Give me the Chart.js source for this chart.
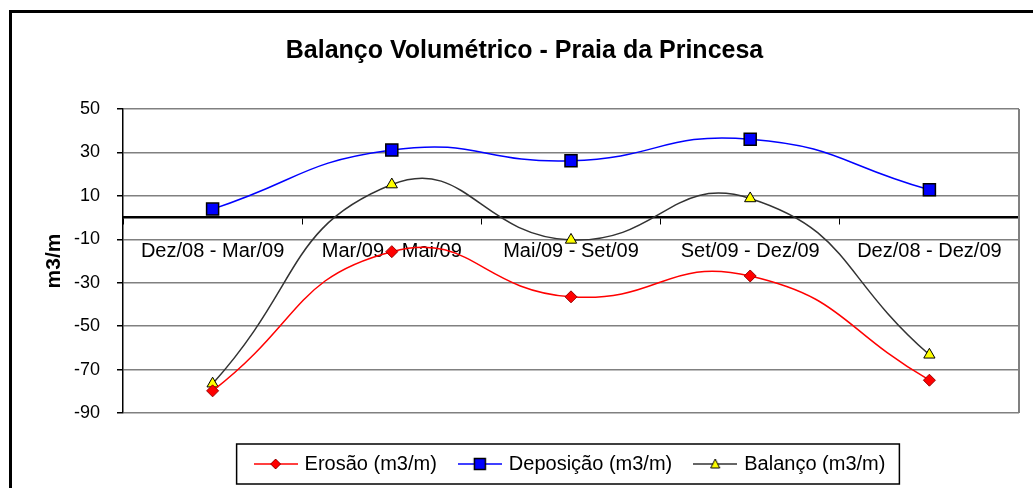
<!DOCTYPE html>
<html>
<head>
<meta charset="utf-8">
<script src="https://cdn.jsdelivr.net/npm/chart.js@4.4.1/dist/chart.umd.min.js"></script>
<style>
  html, body { margin: 0; padding: 0; background: #fff; width: 1033px; height: 488px; overflow: hidden; }
  #frame { position: absolute; left: 9px; top: 10px; width: 1100px; height: 600px; border-left: 3px solid #000; border-top: 3px solid #000; }
  #wrap { position: absolute; left: 0; top: 0; width: 1033px; height: 488px; }
</style>
</head>
<body>
<div id="frame"></div>
<div id="wrap"><canvas id="chart" width="1033" height="488"></canvas></div>
<script>
// periodos (categorias do eixo x)
const periodos = ['Dez/08 - Mar/09', 'Mar/09 - Mai/09', 'Mai/09 - Set/09', 'Set/09 - Dez/09', 'Dez/08 - Dez/09'];

// valores (m3/m)
const erosao    = [-79.8, -15.7, -36.5, -26.9, -74.9];
const deposicao = [3.9, 31.1, 26.2, 36.1, 12.8];
const balanco   = [-76.5, 15.2, -10.3, 8.8, -63.2];

// eixo y
const yMin = -90;
const yMax = 50;
const yStep = 20;

const tituloGrafico = 'Balanço Volumétrico - Praia da Princesa';
const tituloEixoY = 'm3/m';
const nomesSeries = ['Erosão (m3/m)', 'Deposição (m3/m)', 'Balanço (m3/m)'];

// icones da legenda: linha com marcador no meio
function legendIcon(lineColor, drawMarker) {
  const c = document.createElement('canvas');
  c.width = 44;
  c.height = 16;
  const g = c.getContext('2d');
  g.strokeStyle = lineColor;
  g.lineWidth = 1.5;
  g.beginPath();
  g.moveTo(0, 8);
  g.lineTo(44, 8);
  g.stroke();
  drawMarker(g, 22, 8);
  return c;
}

const icons = [
  legendIcon('#FF0000', (g, x, y) => {
    g.beginPath();
    g.moveTo(x, y - 5); g.lineTo(x + 5, y); g.lineTo(x, y + 5); g.lineTo(x - 5, y);
    g.closePath();
    g.fillStyle = '#FF0000'; g.fill();
    g.strokeStyle = '#990000'; g.lineWidth = 1; g.stroke();
  }),
  legendIcon('#0000FF', (g, x, y) => {
    g.fillStyle = '#0000FF';
    g.fillRect(x - 5.5, y - 5.5, 11, 11);
    g.strokeStyle = '#000'; g.lineWidth = 1.5;
    g.strokeRect(x - 5.5, y - 5.5, 11, 11);
  }),
  legendIcon('#333333', (g, x, y) => {
    g.beginPath();
    g.moveTo(x, y - 5); g.lineTo(x + 4.5, y + 4); g.lineTo(x - 4.5, y + 4);
    g.closePath();
    g.fillStyle = '#FFFF00'; g.fill();
    g.strokeStyle = '#000'; g.lineWidth = 1; g.stroke();
  })
];

// borda direita da area do grafico e caixa da legenda
const framePlugin = {
  id: 'framePlugin',
  beforeDatasetsDraw(chart) {
    const { ctx, chartArea: a } = chart;
    ctx.save();
    ctx.strokeStyle = '#808080';
    ctx.lineWidth = 2;
    ctx.beginPath();
    ctx.moveTo(a.right, a.top);
    ctx.lineTo(a.right, a.bottom);
    ctx.stroke();
    ctx.restore();
  },
  afterDraw(chart) {
    const boxes = chart.legend && chart.legend.legendHitBoxes;
    if (!boxes || !boxes.length) return;
    const left = Math.min(...boxes.map(b => b.left)) - 20;
    const right = Math.max(...boxes.map(b => b.left + b.width)) + 14;
    const cy = boxes[0].top + boxes[0].height / 2;
    const ctx = chart.ctx;
    ctx.save();
    ctx.strokeStyle = '#000';
    ctx.lineWidth = 1.5;
    ctx.strokeRect(left, cy - 20, right - left, 40);
    ctx.restore();
  }
};

const ctx = document.getElementById('chart');
const chart = new Chart(ctx, {
  type: 'line',
  data: {
    labels: periodos,
    datasets: [{
      label: nomesSeries[0],
      data: erosao,
      xAxisID: 'x',
      borderColor: '#FF0000',
      borderWidth: 1.5,
      pointStyle: 'rectRot',
      pointRadius: 6,
      pointBackgroundColor: '#FF0000',
      pointBorderColor: '#990000',
      pointBorderWidth: 1,
      tension: 0.5,
      fill: false
    }, {
      label: nomesSeries[1],
      data: deposicao,
      xAxisID: 'x',
      borderColor: '#0000FF',
      borderWidth: 1.5,
      pointStyle: 'rect',
      pointRadius: 8.5,
      pointBackgroundColor: '#0000FF',
      pointBorderColor: '#000',
      pointBorderWidth: 1.5,
      tension: 0.5,
      fill: false
    }, {
      label: nomesSeries[2],
      data: balanco,
      xAxisID: 'x',
      borderColor: '#333333',
      borderWidth: 1.5,
      pointStyle: 'triangle',
      pointRadius: 6.5,
      pointBackgroundColor: '#FFFF00',
      pointBorderColor: '#000',
      pointBorderWidth: 1,
      tension: 0.5,
      fill: false
    }]
  },
  options: {
    responsive: false,
    animation: false,
    devicePixelRatio: 1,
    layout: { padding: { left: 30, right: 14, top: 0, bottom: 4 } },
    scales: {
      x: {
        type: 'category',
        position: { y: 0 },
        offset: true,
        grid: { display: true, drawOnChartArea: false, drawTicks: true, tickLength: 6, tickColor: '#000', offset: true },
        border: { color: '#000', width: 2.5 },
        ticks: { color: '#000', font: { family: 'Arial', size: 20 }, padding: 16, maxRotation: 0, autoSkip: false }
      },
      gap: {
        axis: 'x',
        type: 'category',
        position: 'bottom',
        display: true,
        grid: { display: false },
        border: { display: false },
        ticks: { display: false },
        afterFit(s) { s.height = 17; }
      },
      y: {
        min: yMin,
        max: yMax,
        ticks: { stepSize: yStep, color: '#000', font: { family: 'Arial', size: 18 }, padding: 17 },
        grid: { color: '#808080', lineWidth: 1.5, tickLength: 6, tickColor: '#000' },
        border: { color: '#000', width: 1.5 },
        title: {
          display: true,
          text: tituloEixoY,
          color: '#000',
          font: { family: 'Arial', size: 21, weight: 'bold' },
          padding: { top: 12, bottom: 0 }
        },
        afterFit(s) { s.width = 93; }
      }
    },
    plugins: {
      title: {
        display: true,
        text: tituloGrafico,
        color: '#000',
        font: { family: 'Arial', size: 25, weight: 'bold' },
        padding: { top: 36, bottom: 43 }
      },
      legend: {
        position: 'bottom',
        fullSize: false,
        labels: {
          color: '#000',
          font: { family: 'Arial', size: 20 },
          usePointStyle: true,
          pointStyleWidth: 38,
          padding: 24,
          generateLabels(chart) {
            return chart.data.datasets.map((ds, i) => ({
              text: ds.label,
              pointStyle: icons[i],
              fillStyle: ds.borderColor,
              strokeStyle: ds.borderColor,
              lineWidth: 0,
              fontColor: '#000',
              hidden: false,
              datasetIndex: i
            }));
          }
        }
      },
      tooltip: { enabled: false }
    }
  },
  plugins: [framePlugin]
});
</script>
</body>
</html>
